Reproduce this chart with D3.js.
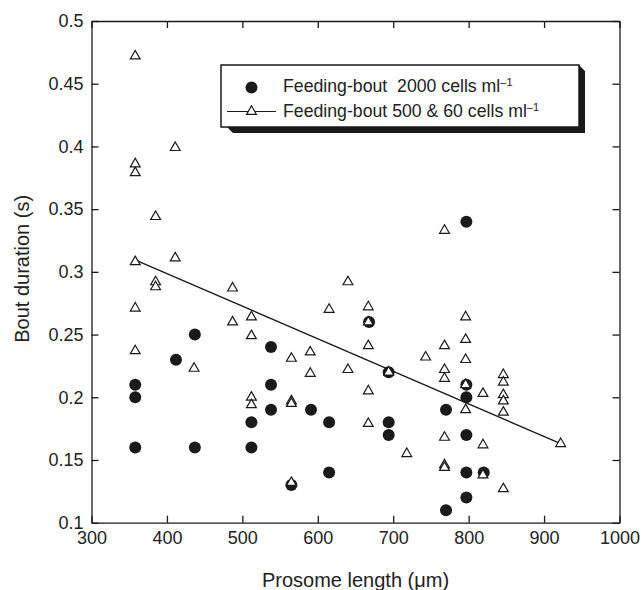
<!DOCTYPE html>
<html>
<head>
<meta charset="utf-8">
<script src="https://cdn.jsdelivr.net/npm/d3@7"></script>
<style>
    html, body { margin: 0; padding: 0; background: #ffffff; }
    svg { display: block; font-family: "Liberation Sans", Arial, sans-serif; }
    .axis path, .axis line { stroke: #1a1a1a; stroke-width: 1.3; }
    .axis text { font-size: 18px; fill: #222222; font-family: "Liberation Sans", Arial, sans-serif; }
</style>
</head>
<body>
<svg id="chart" width="643" height="590"></svg>
<script>
/* =========================================================
   Data: feeding bouts, 2000 cells ml-1 (filled circles)
   ========================================================= */

const richX = [358, 358, 358, 412, 437, 437, 512, 512, 538, 538, 538, 565, 591,
               615, 615, 668, 694, 694, 694, 770, 770, 797, 797, 797, 797, 797, 797, 820];
const richY = [0.21, 0.20, 0.16, 0.23, 0.25, 0.16, 0.18, 0.16, 0.24, 0.21, 0.19, 0.13, 0.19,
               0.18, 0.14, 0.26, 0.22, 0.18, 0.17, 0.19, 0.11, 0.34, 0.21, 0.20, 0.17, 0.14, 0.12, 0.14];

/* =========================================================
   Data: feeding bouts, 500 & 60 cells ml-1 (open triangles)
   ========================================================= */

const poorX = [358, 358, 358, 358, 358, 358,
               385, 385, 385,
               411, 411,
               436,
               487, 487,
               512, 512, 512, 512,
               565, 565, 565, 565,
               590, 590,
               615,
               640, 640,
               667, 667, 667, 667, 667,
               694,
               718,
               743,
               768, 768, 768, 768, 768, 768, 768,
               796, 796, 796, 796, 796,
               819, 819, 819,
               846, 846, 846, 846, 846, 846,
               922];
const poorY = [0.472, 0.386, 0.379, 0.308, 0.271, 0.237,
               0.344, 0.292, 0.288,
               0.399, 0.311,
               0.223,
               0.287, 0.260,
               0.264, 0.249, 0.200, 0.194,
               0.231, 0.197, 0.195, 0.132,
               0.236, 0.219,
               0.270,
               0.292, 0.222,
               0.272, 0.260, 0.241, 0.205, 0.179,
               0.220,
               0.155,
               0.232,
               0.333, 0.241, 0.222, 0.215, 0.168, 0.146, 0.144,
               0.264, 0.246, 0.230, 0.210, 0.190,
               0.203, 0.162, 0.138,
               0.218, 0.212, 0.202, 0.197, 0.188, 0.127,
               0.163];

/* regression line for the 500 & 60 cells series */
const fitX = [360, 922];
const fitY = [0.309, 0.163];

/* =========================================================
   Axis ticks and labels
   ========================================================= */

const xTicks = [300, 400, 500, 600, 700, 800, 900, 1000];
const xTickLabels = ["300", "400", "500", "600", "700", "800", "900", "1000"];
const yTicks = [0.1, 0.15, 0.2, 0.25, 0.3, 0.35, 0.4, 0.45, 0.5];
const yTickLabels = ["0.1", "0.15", "0.2", "0.25", "0.3", "0.35", "0.4", "0.45", "0.5"];

const legendLabels = ["Feeding-bout\u00a0 2000 cells ml", "Feeding-bout 500 & 60 cells ml"];

/* =========================================================
   Layout
   ========================================================= */

const PLOT = { left: 91.5, right: 619.5, top: 21, bottom: 522.7 };
const TICK = 7;
const INK = "#1a1a1a";

const svg = d3.select("#chart");

const x = d3.scaleLinear().domain([300, 1000]).range([PLOT.left, PLOT.right]);
const y = d3.scaleLinear().domain([0.1, 0.5]).range([PLOT.bottom, PLOT.top]);

/* =========================================================
   Axes (ticks point inward on all four sides)
   ========================================================= */

svg.append("g")
    .attr("class", "axis")
    .attr("transform", `translate(0,${PLOT.bottom})`)
    .call(d3.axisBottom(x)
        .tickValues(xTicks)
        .tickFormat((d, i) => xTickLabels[i])
        .tickSizeInner(-TICK).tickSizeOuter(0).tickPadding(9));

svg.append("g")
    .attr("class", "axis")
    .attr("transform", `translate(${PLOT.left},0)`)
    .call(d3.axisLeft(y)
        .tickValues(yTicks)
        .tickFormat((d, i) => yTickLabels[i])
        .tickSizeInner(-TICK).tickSizeOuter(0).tickPadding(8));

svg.append("g")
    .attr("class", "axis")
    .attr("transform", `translate(0,${PLOT.top})`)
    .call(d3.axisTop(x).tickValues(xTicks).tickFormat("")
        .tickSizeInner(-TICK).tickSizeOuter(0));

svg.append("g")
    .attr("class", "axis")
    .attr("transform", `translate(${PLOT.right},0)`)
    .call(d3.axisRight(y).tickValues(yTicks).tickFormat("")
        .tickSizeInner(-TICK).tickSizeOuter(0));

/* axis titles */
svg.append("text")
    .attr("x", (PLOT.left + PLOT.right) / 2)
    .attr("y", 587)
    .attr("text-anchor", "middle")
    .attr("font-size", 20)
    .attr("fill", "#222222")
    .text("Prosome length (\u03bcm)");

svg.append("text")
    .attr("transform", `translate(29,${(PLOT.top + PLOT.bottom) / 2 - 3}) rotate(-90)`)
    .attr("text-anchor", "middle")
    .attr("font-size", 20)
    .attr("fill", "#222222")
    .text("Bout duration (s)");

/* =========================================================
   Marks
   ========================================================= */

const triPath = d3.symbol().type(d3.symbolTriangle).size(42)();

svg.append("path")
    .datum(fitX.map((v, i) => [v, fitY[i]]))
    .attr("fill", "none")
    .attr("stroke", INK)
    .attr("stroke-width", 1.3)
    .attr("d", d3.line().x(d => x(d[0])).y(d => y(d[1])));

svg.append("g")
    .selectAll("circle")
    .data(richX.map((v, i) => [v, richY[i]]))
    .join("circle")
    .attr("cx", d => x(d[0]))
    .attr("cy", d => y(d[1]))
    .attr("r", 6)
    .attr("fill", INK);

svg.append("g")
    .selectAll("path")
    .data(poorX.map((v, i) => [v, poorY[i]]))
    .join("path")
    .attr("transform", d => `translate(${x(d[0])},${y(d[1])})`)
    .attr("d", triPath)
    .attr("fill", "#ffffff")
    .attr("stroke", INK)
    .attr("stroke-width", 1.2);

/* =========================================================
   Legend box with drop shadow
   ========================================================= */

const LG = { x: 221, y: 65, w: 358, h: 62, off: 6 };
const legend = svg.append("g");

legend.append("path")
    .attr("d", `M${LG.x + LG.off},${LG.y + LG.h} L${LG.x + LG.w},${LG.y + LG.h}` +
               ` L${LG.x + LG.w},${LG.y} L${LG.x + LG.w + LG.off},${LG.y + LG.off}` +
               ` L${LG.x + LG.w + LG.off},${LG.y + LG.h + LG.off} L${LG.x + LG.off * 2},${LG.y + LG.h + LG.off} Z`)
    .attr("fill", INK);

legend.append("rect")
    .attr("x", LG.x).attr("y", LG.y)
    .attr("width", LG.w).attr("height", LG.h)
    .attr("fill", "#ffffff")
    .attr("stroke", INK)
    .attr("stroke-width", 1.5);

legend.append("circle")
    .attr("cx", 251.5).attr("cy", 87.5).attr("r", 6)
    .attr("fill", INK);

legend.append("line")
    .attr("x1", 227).attr("x2", 276)
    .attr("y1", 111.5).attr("y2", 111.5)
    .attr("stroke", INK).attr("stroke-width", 1.2);

legend.append("path")
    .attr("transform", "translate(251.5,111.5)")
    .attr("d", triPath)
    .attr("fill", "#ffffff")
    .attr("stroke", INK)
    .attr("stroke-width", 1.2);

legendLabels.forEach((label, i) => {
    const t = legend.append("text")
        .attr("x", 283)
        .attr("y", 92 + i * 24.5)
        .attr("font-size", 17.7)
        .attr("fill", "#222222");
    t.append("tspan").text(label);
    t.append("tspan")
        .attr("font-size", 11)
        .attr("dy", -6)
        .text("\u20131");
});
</script>
</body>
</html>
